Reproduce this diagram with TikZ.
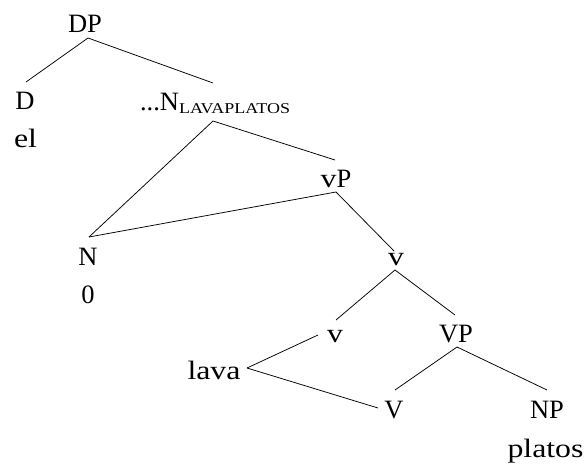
\documentclass[tikz,border=0pt]{standalone}
\usepackage{fontspec}
\setmainfont{Liberation Serif}
\newfontfamily\widefont[FakeStretch=1.2]{Liberation Serif}
\begin{document}
\begin{tikzpicture}[x=1pt,y=-1pt,
  lbl/.style={inner sep=0pt,outer sep=0pt,anchor=base,font=\fontsize{26.5}{30}\selectfont},
  wlbl/.style={lbl,font=\fontsize{26.5}{30}\widefont},
  edge/.style={line width=0.75pt,black}]
\useasboundingbox (0,0) rectangle (586,465);
% nodes
\node[lbl] (DP) at (85,33) {DP};
\node[lbl] (D) at (25,110) {D};
\node[wlbl] (el) at (25.5,148) {el};
\node[lbl,anchor=base west] (Nl) at (140,111) {...N\raisebox{-3pt}{\fontsize{15}{15}\widefont LAVAPLATOS}};
\node[lbl] (vP) at (336,188) {{\widefont v}P};
\node[lbl] (N) at (88,265) {N};
\node[lbl] (zero) at (88,303) {0};
\node[wlbl] (vu) at (396,265) {v};
\node[wlbl] (vl) at (335,342) {v};
\node[lbl] (VP) at (456,342) {VP};
\node[wlbl] (lava) at (214,379) {lava};
\node[lbl] (V) at (394,418) {V};
\node[lbl] (NP) at (547,418) {NP};
\node[wlbl] (platos) at (545.5,457) {platos};
% edges
\draw[edge] ([shift={(3,5)}]DP.base) -- ([shift={(1,-28)}]D.base);
\draw[edge] ([shift={(3,5)}]DP.base) -- ([shift={(73,-28)}]Nl.base west);
\draw[edge] ([shift={(73,10)}]Nl.base west) -- ([shift={(1,-28)}]N.base);
\draw[edge] ([shift={(73,10)}]Nl.base west) -- ([shift={(-1,-28)}]vP.base);
\draw[edge] ([shift={(0,4)}]vP.base) -- ([shift={(1,-28)}]N.base);
\draw[edge] ([shift={(0,4)}]vP.base) -- ([shift={(-2,-14)}]vu.base);
\draw[edge] ([shift={(-1,5)}]vu.base) -- ([shift={(1,-22)}]vl.base);
\draw[edge] ([shift={(-1,5)}]vu.base) -- ([shift={(-1,-27)}]VP.base);
\draw[edge] ([shift={(-17,-7)}]vl.base) -- ([shift={(33,-11)}]lava.base);
\draw[edge] ([shift={(33,-11)}]lava.base) -- ([shift={(-16,-10)}]V.base);
\draw[edge] ([shift={(1,5)}]VP.base) -- ([shift={(1,-28)}]V.base);
\draw[edge] ([shift={(1,5)}]VP.base) -- ([shift={(0,-28)}]NP.base);
\end{tikzpicture}
\end{document}
